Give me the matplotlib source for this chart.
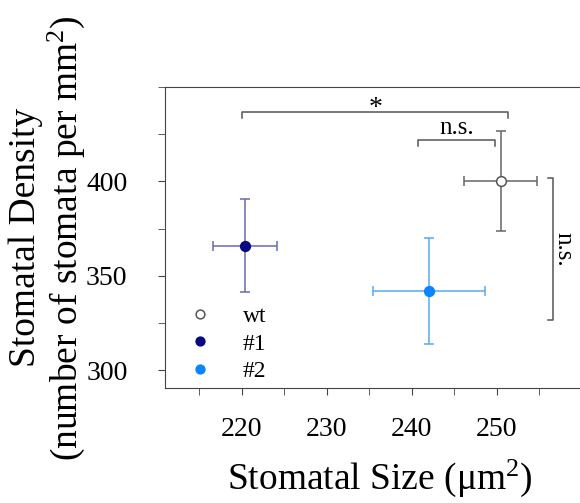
import matplotlib.pyplot as plt
from matplotlib.ticker import MultipleLocator

plt.rcParams['font.family'] = ['Liberation Serif', 'DejaVu Serif']
plt.rcParams['mathtext.fontset'] = 'custom'
plt.rcParams['mathtext.rm'] = 'Liberation Serif'
plt.rcParams['mathtext.it'] = 'Liberation Serif:italic'

# group means and errors
groups = ['wt', '#1', '#2']
size_mean = [250.5, 220.4, 242.1]
size_err = [4.3, 3.8, 6.6]
density_mean = [400, 366, 342]
density_err = [26.5, 24.5, 28]

marker_face = ['white', '#0a0a80', '#0a84ff']
marker_edge = ['#555555', '#0a0a80', '#0a84ff']
err_color = ['#666666', '#6868b8', '#5aaaf0']

# significance brackets: (x0, x1, y, label)
brackets = [(220.1, 251.4, 436.7, '*'), (240.8, 249.8, 422, 'n.s.')]
vbracket = (256.7, 326.5, 401.7, 'n.s.')

W, H = 580, 503
fig = plt.figure(figsize=(W / 100, H / 100), dpi=100)
ax = fig.add_axes([0.2845, 0.2286, 0.74, 0.5984])

for i, g in enumerate(groups):
    ax.errorbar(size_mean[i], density_mean[i], xerr=size_err[i], yerr=density_err[i],
                fmt='none', ecolor=err_color[i], elinewidth=1.1, capsize=3.3, capthick=1.1, zorder=2)
    ax.plot(size_mean[i], density_mean[i], 'o', ms=7, mfc=marker_face[i], mec=marker_edge[i],
            mew=1.1, ls='none', label=g, zorder=3)

bc = '#555555'
for x0, x1, y, lab in brackets:
    h = 3.3
    ax.plot([x0, x0, x1, x1], [y - h, y, y, y - h], color=bc, lw=1.1)
    if lab == '*':
        ax.text((x0 + x1) / 2, y - 4.5, lab, ha='center', va='bottom', fontsize=20)
    else:
        ax.text((x0 + x1) / 2, y + 0.5, lab, ha='center', va='bottom', fontsize=18)

vx, vy0, vy1, vlab = vbracket
ax.plot([vx - 0.7, vx, vx, vx - 0.7], [vy0, vy0, vy1, vy1], color=bc, lw=1.1)
ax.text(vx - 0.1, (vy0 + vy1) / 2, vlab, rotation=-90, ha='left', va='center', fontsize=18)

ax.set_xlim(211.0, 211.0 + 0.74 * W / 8.5)
ax.set_ylim(290.5, 450)
ax.xaxis.set_minor_locator(MultipleLocator(5))
ax.yaxis.set_minor_locator(MultipleLocator(25))
ax.set_xticks([220, 230, 240, 250])
ax.set_yticks([300, 350, 400])
ax.tick_params(which='both', direction='out', color='#444444', length=5, labelsize=20)
ax.tick_params(axis='x', pad=16)
ax.tick_params(axis='y', pad=22)
for s in ax.spines.values():
    s.set_color('#444444')
ax.spines['right'].set_visible(False)

ax.set_xlabel(r'Stomatal Size ($\mathregular{\mu m^2}$)', fontsize=27, labelpad=11)

# two-line y label, placed by hand
fig.text(26 / W, 1 - 237 / H, 'Stomatal Density', rotation=90,
         ha='center', va='center', fontsize=27)
fig.text(66 / W, 1 - 238 / H, r'(number of stomata per mm$\mathregular{^2}$)', rotation=90,
         ha='center', va='center', fontsize=27)

ax.legend(loc='lower left', bbox_to_anchor=(0.0, -0.035), frameon=False, fontsize=17,
          handletextpad=1.0, labelspacing=0.25, borderaxespad=0.3, handlelength=1.6,
          markerscale=0.9)

fig.savefig('out.png', dpi=100)
